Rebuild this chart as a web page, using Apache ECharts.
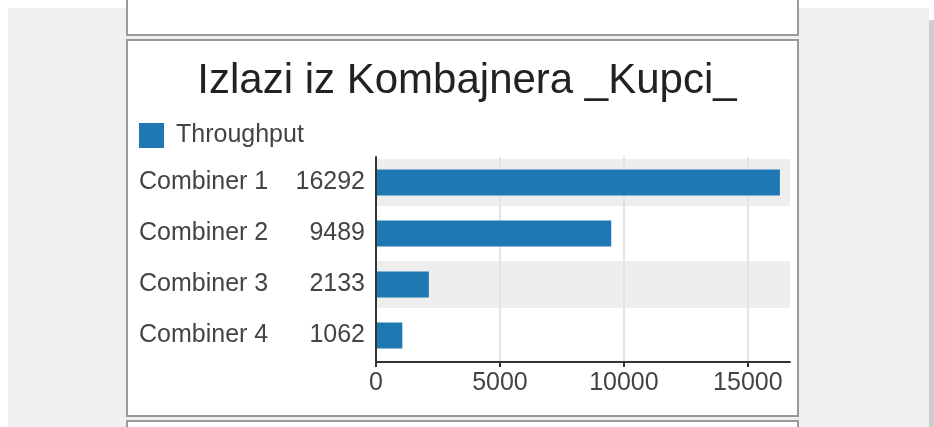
<!DOCTYPE html>
<html>
<head>
<meta charset="utf-8">
<script src="https://cdn.jsdelivr.net/npm/echarts@6/dist/echarts.min.js"></script>
<style>
  html, body { margin: 0; padding: 0; width: 934px; height: 427px; overflow: hidden; background: #ffffff; }
  .bg { position: absolute; left: 8px; top: 8px; width: 921px; height: 419px; background: #f0f0f0; }
  .scroll { position: absolute; left: 929px; top: 20px; width: 5px; height: 407px; background: #cdcdcd; }
  .panel { position: absolute; left: 126px; width: 669px; background: #ffffff; border: 2px solid #9a9a9a; }
  #chart { position: absolute; left: 0; top: 0; width: 934px; height: 427px; }
</style>
</head>
<body>
<div class="bg"></div>
<div class="scroll"></div>
<div class="panel" style="top:-10px; height:42px;"></div>
<div class="panel" style="top:39px; height:374px;"></div>
<div class="panel" style="top:420px; height:40px;"></div>
<div id="chart"></div>
<script>
const titleText = 'Izlazi iz Kombajnera _Kupci_';
const seriesName = 'Throughput';
const categories = ['Combiner 1', 'Combiner 2', 'Combiner 3', 'Combiner 4'];
const throughput = [16292, 9489, 2133, 1062];
const shadedRows = [true, false, true, false];
const xTicks = [0, 5000, 10000, 15000];
const axisMax = 16700;

const FONT = '"Liberation Sans", Arial, sans-serif';
const chart = echarts.init(document.getElementById('chart'), null, { renderer: 'canvas' });

chart.setOption({
  backgroundColor: 'transparent',
  animation: false,
  title: {
    text: titleText,
    left: 462,
    textAlign: 'center',
    top: 55,
    textStyle: { fontFamily: FONT, fontSize: 42, fontWeight: 'normal', color: '#222222' }
  },
  legend: {
    data: [seriesName],
    left: 139,
    top: 123,
    padding: 0,
    itemWidth: 25,
    itemHeight: 25,
    icon: 'rect',
    textStyle: { fontFamily: FONT, fontSize: 25, color: '#444444', padding: [0, 0, 0, 7] }
  },
  grid: { left: 376, top: 157, width: 414, height: 204, containLabel: false },
  xAxis: {
    type: 'value',
    min: 0,
    max: axisMax,
    interval: xTicks[1] - xTicks[0],
    offset: 1,
    z: 2,
    axisLine: { show: true, lineStyle: { color: '#333333', width: 2 } },
    axisTick: { show: true, length: 5, customValues: xTicks, lineStyle: { color: '#333333', width: 2 } },
    splitLine: { show: true, showMinLine: false, showMaxLine: true, lineStyle: { color: '#e3e3e3', width: 2 } },
    axisLabel: {
      margin: 9,
      customValues: xTicks,
      fontFamily: FONT, fontSize: 25, color: '#444444',
      formatter: v => String(v)
    }
  },
  yAxis: [
    {
      type: 'category',
      inverse: true,
      data: categories,
      z: 4,
      axisLine: { show: true, lineStyle: { color: '#333333', width: 2 } },
      axisTick: { show: false },
      splitLine: { show: false },
      axisLabel: {
        margin: 11,
        formatter: (v, i) => '{a|' + v + '}{b|' + throughput[i] + '}',
        rich: {
          a: { width: 150, align: 'left', fontFamily: FONT, fontSize: 25, color: '#444444' },
          b: { width: 76, align: 'right', fontFamily: FONT, fontSize: 25, color: '#444444' }
        }
      }
    },
    {
      type: 'category',
      inverse: true,
      data: categories,
      show: false
    }
  ],
  series: [
    {
      name: 'bands',
      type: 'bar',
      silent: true,
      yAxisIndex: 1,
      z: 1,
      barWidth: 47,
      itemStyle: { color: '#eeeeee' },
      data: shadedRows.map(s => (s ? axisMax : null))
    },
    {
      name: seriesName,
      type: 'bar',
      yAxisIndex: 0,
      z: 3,
      barWidth: 26,
      itemStyle: { color: '#1f77b4' },
      data: throughput
    }
  ]
});
</script>
</body>
</html>
